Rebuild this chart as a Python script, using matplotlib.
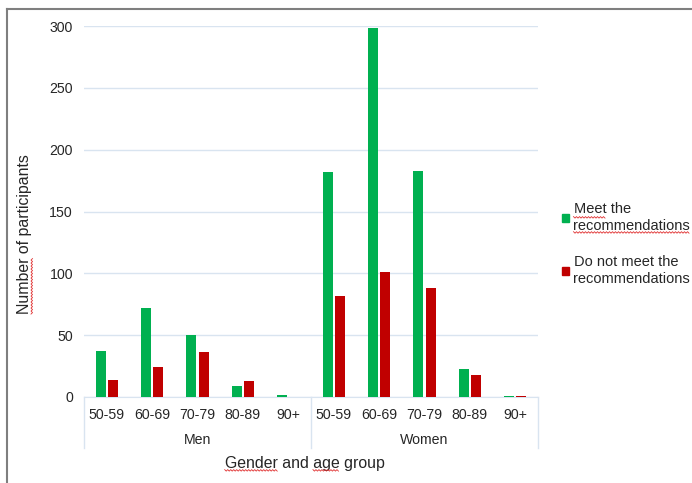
import matplotlib.pyplot as plt
from matplotlib.lines import Line2D
from matplotlib.patches import Patch
import numpy as np

plt.rcParams["font.family"] = ["Liberation Sans", "DejaVu Sans"]

groups = ["Men", "Women"]
age_bands = ["50-59", "60-69", "70-79", "80-89", "90+"]
meet = [37, 72, 50, 9, 2, 182, 298, 183, 23, 1]
not_meet = [14, 24, 36, 13, 0, 82, 101, 88, 18, 1]
series_labels = ["Meet the\nrecommendations", "Do not meet the\nrecommendations"]

GREEN = "#00B050"
RED = "#C00000"
GRID = "#D9E4F0"
TEXT = "#262626"
TICK_FS = 10.2
TITLE_FS = 11.4
LEGEND_FS = 10.5

fig = plt.figure(figsize=(6.92, 4.83), dpi=100)
ax = fig.add_axes([84 / 692, 1 - 397 / 483, 454 / 692, 371 / 483])

n = len(meet)
x = np.arange(n)
w = 0.22
ax.bar(x - 0.135, meet, width=w, color=GREEN, zorder=3)
ax.bar(x + 0.135, not_meet, width=w, color=RED, zorder=3)

ax.set_xlim(-0.5, n - 0.5)
ax.set_ylim(0, 300)
ax.set_yticks(range(0, 301, 50))
ax.yaxis.grid(True, color=GRID, linewidth=1)
ax.set_axisbelow(True)
for side in ["top", "right", "left"]:
    ax.spines[side].set_visible(False)
ax.spines["bottom"].set_color(GRID)
ax.tick_params(axis="y", length=0, pad=8, labelsize=TICK_FS, labelcolor=TEXT)
ax.tick_params(axis="x", length=0, pad=8, labelsize=TICK_FS, labelcolor=TEXT)
ax.set_xticks(x)
ax.set_xticklabels(age_bands * len(groups))

# group separators and group names under the category labels
trans = ax.get_xaxis_transform()
nb = len(age_bands)
for k in range(len(groups) + 1):
    xs = k * nb - 0.5
    ax.add_line(Line2D([xs, xs], [0, -0.1375], transform=trans, color=GRID,
                       linewidth=1, clip_on=False))
for k, g in enumerate(groups):
    ax.text(k * nb + (nb - 1) / 2, -0.115, g, transform=trans, ha="center",
            va="center", fontsize=TICK_FS, color=TEXT)

ax.set_xlabel("Gender and age group", fontsize=TITLE_FS, color=TEXT)
ax.xaxis.set_label_coords(0.486, -0.158)
ax.set_ylabel("Number of participants", fontsize=TITLE_FS, color=TEXT)
ax.yaxis.set_label_coords(-0.1145, 0.439)

handles = [Patch(color=GREEN), Patch(color=RED)]
leg = fig.legend(handles, series_labels, loc="center left",
                 bbox_to_anchor=(556 / 692, 1 - 244 / 483), frameon=False,
                 borderaxespad=0, fontsize=LEGEND_FS, handlelength=0.5,
                 handleheight=0.5, handletextpad=0.3, labelspacing=1.55,
                 labelcolor=TEXT)

# outer chart frame (top and left edges visible)
fig.add_artist(Line2D([7 / 692, 1], [1 - 9 / 483] * 2, transform=fig.transFigure,
                      color="#7F7F7F", linewidth=1.5))
fig.add_artist(Line2D([7 / 692] * 2, [0, 1 - 9 / 483], transform=fig.transFigure,
                      color="#7F7F7F", linewidth=1.5))

# red spell-check squiggles under some words
fig.canvas.draw()
renderer = fig.canvas.get_renderer()
to_fig = fig.transFigure.inverted()


def text_width(s, text_artist):
    wpx, _, _ = renderer.get_text_width_height_descent(
        s, text_artist.get_fontproperties(), ismath=False)
    return wpx


def squiggle(p0, length, vertical=False):
    t = np.arange(0, length + 0.01, 1.5)
    off = np.where(np.arange(len(t)) % 2 == 0, 0.0, 1.5)
    if vertical:
        pts = np.column_stack([p0[0] + off, p0[1] + t])
    else:
        pts = np.column_stack([p0[0] + t, p0[1] - off])
    pts = to_fig.transform(pts)
    fig.add_artist(Line2D(pts[:, 0], pts[:, 1], transform=fig.transFigure,
                          color="#E03030", linewidth=0.6))


xl = ax.xaxis.label
bb = xl.get_window_extent(renderer)
base = bb.y0 + 1
squiggle((bb.x0, base), text_width("Gender", xl))
squiggle((bb.x0 + text_width("Gender and ", xl), base), text_width("age", xl))

yl = ax.yaxis.label
bb = yl.get_window_extent(renderer)
squiggle((bb.x1 - 1, bb.y0), text_width("Number", yl), vertical=True)

lt = leg.get_texts()[0]
bb = lt.get_window_extent(renderer)
line_h = bb.height / 2
squiggle((bb.x0, bb.y0 + line_h + 1), text_width("Meet", lt))
squiggle((bb.x0, bb.y0 + 1), text_width("recommendations", lt))

fig.savefig("out.png", dpi=100)
